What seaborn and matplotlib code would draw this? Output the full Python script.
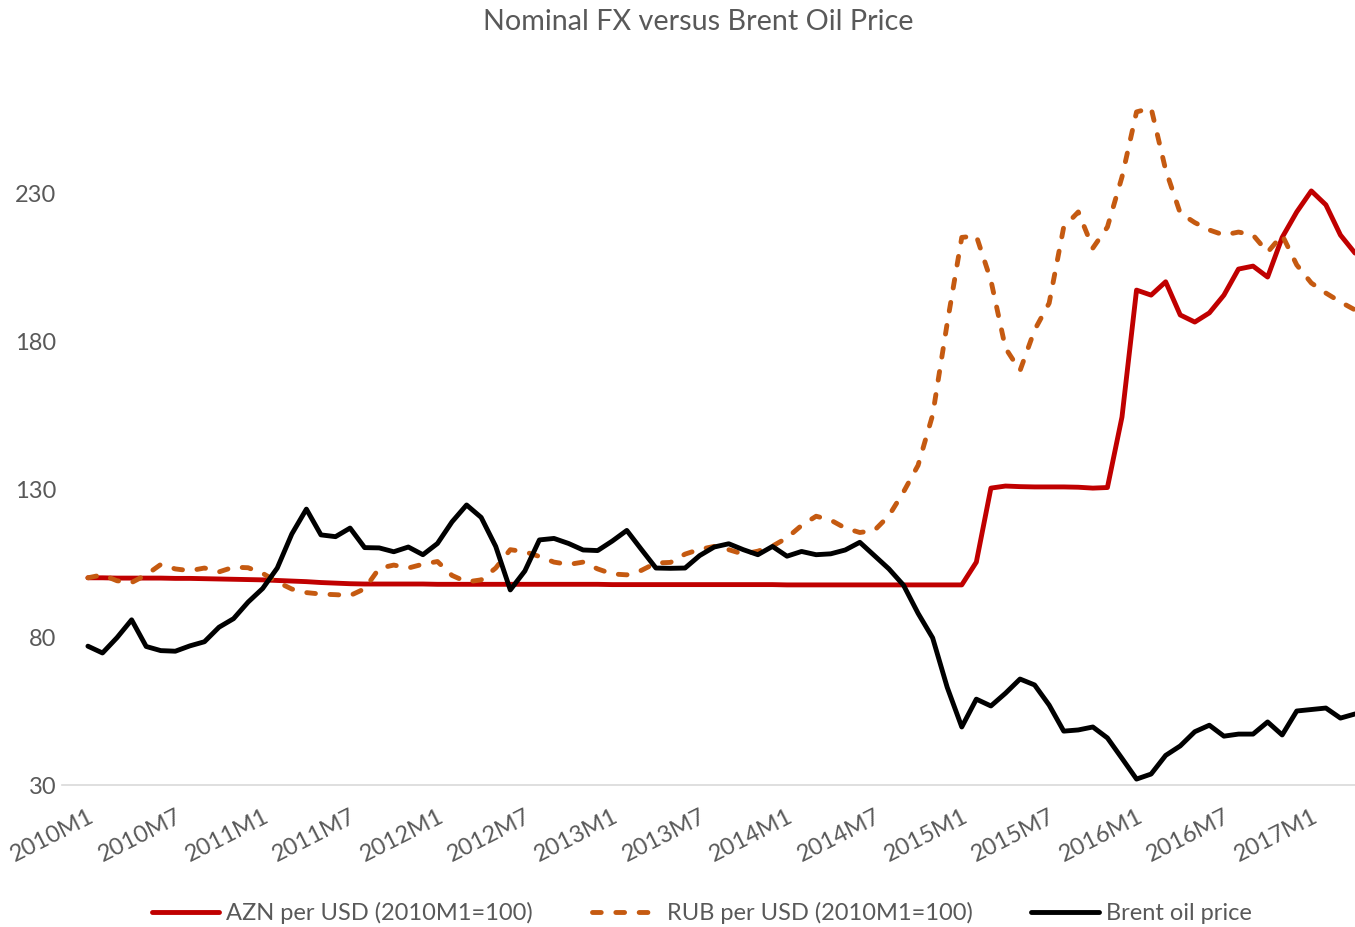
import pandas as pd
import matplotlib.pyplot as plt
import seaborn as sns

# monthly categories 2010M1 .. 2017M4
months = [f"{y}M{m}" for y in range(2010, 2018) for m in range(1, 13)][:88]
tick_labels = ["2010M1", "2010M7", "2011M1", "2011M7", "2012M1", "2012M7",
               "2013M1", "2013M7", "2014M1", "2014M7", "2015M1", "2015M7",
               "2016M1", "2016M7", "2017M1"]

azn = [100.0, 100.0, 99.9, 99.9, 99.9, 99.9, 99.8, 99.8, 99.7, 99.6, 99.5, 99.4,
       99.3, 99.1, 98.9, 98.7, 98.4, 98.2, 98.0, 97.9, 97.9, 97.9, 97.9, 97.9,
       97.8, 97.8, 97.8, 97.8, 97.8, 97.8, 97.8, 97.8, 97.8, 97.8, 97.8, 97.8,
       97.7, 97.7, 97.7, 97.7, 97.7, 97.7, 97.7, 97.7, 97.7, 97.7, 97.7, 97.7,
       97.6, 97.6, 97.6, 97.6, 97.6, 97.6, 97.6, 97.6, 97.6, 97.6, 97.6, 97.6,
       97.6, 105.3, 130.3, 131.0, 130.8, 130.7, 130.7, 130.7, 130.6, 130.3, 130.5, 154.3,
       197.2, 195.5, 200.0, 188.8, 186.4, 189.5, 195.5, 204.3, 205.3, 201.6, 215.0, 223.6,
       230.7, 226.0, 215.8, 209.7]

rub = [100.0, 101.0, 99.0, 98.4, 101.0, 104.5, 103.0, 102.4, 103.3, 102.0, 103.6, 103.4,
       101.5, 98.6, 96.2, 95.0, 94.5, 94.3, 94.0, 96.3, 103.2, 104.3, 103.3, 104.6,
       105.5, 100.8, 98.6, 99.3, 103.3, 109.5, 108.8, 107.2, 105.3, 104.5, 105.3, 103.0,
       101.3, 101.0, 102.5, 105.0, 105.2, 108.0, 109.6, 110.6, 109.5, 108.0, 109.0, 110.7,
       113.5, 117.7, 120.8, 119.5, 116.8, 115.3, 116.0, 121.0, 129.0, 138.0, 155.0, 186.0,
       215.0, 215.5, 200.5, 177.6, 170.0, 183.7, 192.8, 218.5, 223.6, 211.4, 218.5, 235.4,
       257.4, 258.7, 237.8, 223.2, 220.0, 217.5, 215.8, 216.8, 215.8, 210.0, 215.8, 205.7,
       199.6, 196.2, 193.2, 190.5]

brent = [76.9, 74.6, 79.8, 85.8, 76.8, 75.4, 75.2, 77.0, 78.4, 83.3, 86.2, 91.8,
         96.4, 103.3, 114.8, 123.2, 114.5, 113.9, 116.8, 110.2, 110.1, 108.8, 110.4, 107.8,
         111.6, 118.9, 124.6, 120.4, 110.6, 95.9, 102.3, 112.8, 113.3, 111.6, 109.4, 109.2,
         112.4, 116.0, 109.6, 103.3, 103.2, 103.3, 107.5, 110.4, 111.5, 109.5, 107.8, 110.6,
         107.3, 108.9, 107.8, 108.1, 109.4, 112.0, 107.5, 103.0, 97.5, 88.0, 79.7, 63.0,
         49.6, 59.0, 56.7, 61.0, 65.8, 63.8, 57.0, 48.2, 48.6, 49.6, 45.9, 39.0,
         32.0, 33.7, 40.0, 43.2, 48.0, 50.2, 46.5, 47.2, 47.2, 51.3, 46.9, 55.0,
         55.5, 56.0, 52.6, 54.0]

series_names = ["AZN per USD (2010M1=100)", "RUB per USD (2010M1=100)", "Brent oil price"]
colors = ["#C00000", "#C55A11", "#000000"]
dash = (1.8, 3.0)
lw = 3.5

frames = []
for name, vals in zip(series_names, [azn, rub, brent]):
    frames.append(pd.DataFrame({"t": range(len(months)), "month": months,
                                "value": vals, "series": name}))
df = pd.concat(frames, ignore_index=True)

sns.set_style("white")
plt.rcParams["font.family"] = ["Lato", "DejaVu Sans"]
grey = "#595959"

fig = plt.figure(figsize=(13.55, 9.27), dpi=100)
ax = fig.add_axes([62 / 1355, 1 - 785 / 927, (1355 - 62) / 1355, (785 - 45) / 927])

sns.lineplot(data=df, x="t", y="value", hue="series", style="series",
             hue_order=series_names, style_order=series_names,
             palette=dict(zip(series_names, colors)),
             dashes={series_names[0]: "", series_names[1]: dash, series_names[2]: ""},
             linewidth=lw, ax=ax, legend=False)
for line in ax.get_lines():
    line.set_dash_capstyle("round")
    line.set_solid_joinstyle("round")

ax.set_xlim(-1.78, 87)
ax.set_ylim(30, 280)
ax.set_yticks([30, 80, 130, 180, 230])
ax.set_xticks([months.index(l) for l in tick_labels])
ax.set_xticklabels(tick_labels, rotation=27, ha="right", rotation_mode="anchor")
ax.tick_params(axis="both", length=0, colors=grey, labelsize=17)
ax.tick_params(axis="y", pad=4)
ax.tick_params(axis="x", pad=15)
ax.set_xlabel("")
ax.set_ylabel("")
for side in ["top", "right", "left"]:
    ax.spines[side].set_visible(False)
ax.spines["bottom"].set_color("#D9D9D9")
ax.spines["bottom"].set_linewidth(1.2)
ax.grid(False)

fig.suptitle("Nominal FX versus Brent Oil Price", y=1 - 22 / 927, va="center",
             fontsize=20.7, color=grey, x=0.515)

handles = [plt.Line2D([], [], color=colors[0], lw=lw),
           plt.Line2D([], [], color=colors[1], lw=lw, ls=(0, dash),
                      dash_capstyle="round"),
           plt.Line2D([], [], color=colors[2], lw=lw)]
fig.legend(handles, series_names, loc="center", bbox_to_anchor=(0.518, 1 - 913 / 927),
           ncol=3, frameon=False, fontsize=17, labelcolor=grey,
           handlelength=2.85, handletextpad=0.3, columnspacing=2.5)

fig.savefig("out.png", dpi=100)
plt.close(fig)
